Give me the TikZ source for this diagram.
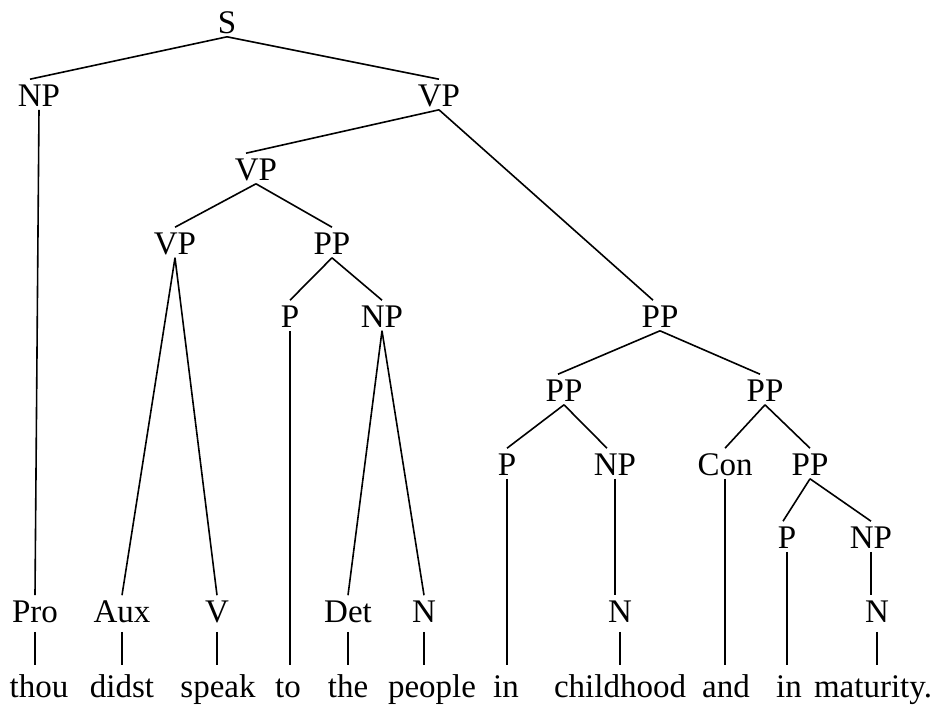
\documentclass[tikz,border=0pt]{standalone}
\usepackage{fontspec}
\setmainfont{Liberation Serif}

\begin{document}
\begin{tikzpicture}[
            x = 1pt, y = -1pt, % one unit per pixel, y going down
            line width = 1.6pt, % line style
            every node/.style = {font = \fontsize{33}{40}\selectfont}
        ]

        \tikzstyle{cat}=[
            anchor = base,
            inner xsep = 0pt,
            inner ysep = 3pt,
            text height = 23pt,
            text depth = 0pt
        ]
        \tikzstyle{pre}=[cat, text depth = 6pt]
        \tikzstyle{word}=[cat, inner ysep = 8pt]

        \useasboundingbox (0,0) rectangle (944,704);

        \node[cat] (s) at (227,33) {S};
        \node[cat] (np1) at (39,106) {NP};
        \node[cat] (vp1) at (439,106) {VP};
        \node[cat] (vp2) at (256,180) {VP};
        \node[cat] (vp3) at (175,254) {VP};
        \node[cat] (pp1) at (332,254) {PP};
        \node[cat] (p1) at (290,327) {P};
        \node[cat] (np2) at (382,327) {NP};
        \node[cat] (pp2) at (660,327) {PP};
        \node[cat] (pp3) at (564,401) {PP};
        \node[cat] (pp4) at (765,401) {PP};
        \node[cat] (p2) at (507,475) {P};
        \node[cat] (np3) at (615,475) {NP};
        \node[cat] (con) at (725,475) {Con};
        \node[cat] (pp5) at (810,475) {PP};
        \node[cat] (p3) at (787,548) {P};
        \node[cat] (np4) at (871,548) {NP};

        % pre-terminals
        \node[pre] (pro) at (35,622) {Pro};
        \node[pre] (aux) at (122,622) {Aux};
        \node[pre] (v) at (217,622) {V};
        \node[pre] (det) at (348,622) {Det};
        \node[pre] (n1) at (424,622) {N};
        \node[pre] (n2) at (620,622) {N};
        \node[pre] (n3) at (877,622) {N};

        % the sentence
        \node[word] (thou) at (39,697) {thou};
        \node[word] (didst) at (122,697) {didst};
        \node[word] (speak) at (218,697) {speak};
        \node[word] (to) at (288,697) {to};
        \node[word] (the) at (348,697) {the};
        \node[word] (people) at (432,697) {people};
        \node[word] (in1) at (506,697) {in};
        \node[word] (childhood) at (620,697) {childhood};
        \node[word] (and) at (726,697) {and};
        \node[word] (in2) at (789,697) {in};
        \node[word] (maturity) at (873,697) {maturity.};

        \draw (s.south) -- ([xshift=-9pt]np1.north);
        \draw (s.south) -- (vp1.north);
        \draw (np1.south) -- (pro.north);
        \draw (vp1.south) -- ([xshift=-10pt]vp2.north);
        \draw (vp1.south) -- ([xshift=-7pt]pp2.north);
        \draw (vp2.south) -- (vp3.north);
        \draw (vp2.south) -- (pp1.north);
        \draw (vp3.south) -- (aux.north);
        \draw (vp3.south) -- (v.north);
        \draw (pp1.south) -- (p1.north);
        \draw (pp1.south) -- (np2.north);
        \draw (p1.south) -- (p1.south |- to.north);
        \draw (np2.south) -- (det.north);
        \draw (np2.south) -- (n1.north);
        \draw (pp2.south) -- ([xshift=-6pt]pp3.north);
        \draw (pp2.south) -- ([xshift=-5pt]pp4.north);
        \draw (pp3.south) -- (p2.north);
        \draw (pp3.south) -- ([xshift=-8pt]np3.north);
        \draw (pp4.south) -- (con.north);
        \draw (pp4.south) -- (pp5.north);
        \draw (pp5.south) -- ([xshift=-4pt]p3.north);
        \draw (pp5.south) -- (np4.north);
        \draw (p2.south) -- (p2.south |- in1.north);
        \draw (np3.south) -- (np3.south |- n2.north);
        \draw (con.south) -- (con.south |- and.north);
        \draw (p3.south) -- (p3.south |- in2.north);
        \draw (np4.south) -- (np4.south |- n3.north);

        \draw (pro.south) -- (pro.south |- thou.north);
        \draw (aux.south) -- (aux.south |- didst.north);
        \draw (v.south) -- (v.south |- speak.north);
        \draw (det.south) -- (det.south |- the.north);
        \draw (n1.south) -- (n1.south |- people.north);
        \draw (n2.south) -- (n2.south |- childhood.north);
        \draw (n3.south) -- (n3.south |- maturity.north);
    \end{tikzpicture}
\end{document}
